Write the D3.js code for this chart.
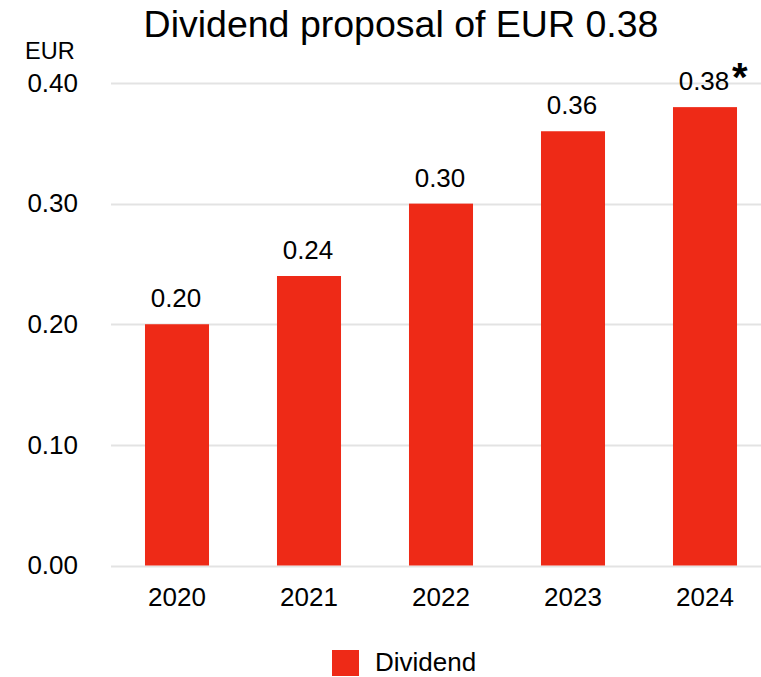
<!DOCTYPE html>
<html>
<head>
<meta charset="utf-8">
<script src="https://cdn.jsdelivr.net/npm/d3@7"></script>
<style>
  html, body { margin: 0; padding: 0; background: #fff; }
  text { font-family: "Liberation Sans", Arial, sans-serif; fill: #000; }
</style>
</head>
<body>
<svg id="chart" width="761" height="677"></svg>
<script>
// Dividend per share, EUR
const years = ["2020", "2021", "2022", "2023", "2024"];
const dividends = [0.20, 0.24, 0.30, 0.36, 0.38];
const valueLabels = ["0.20", "0.24", "0.30", "0.36", "0.38"];
const yTicks = [0, 0.1, 0.2, 0.3, 0.4];
const footnoteMarks = ["", "", "", "", "*"];
const seriesName = "Dividend";
const titleText = "Dividend proposal of EUR 0.38";
const unitText = "EUR";

const red = "#ee2a17";
const grid = "#e3e3e3";
const labelSize = "26px";

const svg = d3.select("#chart");

const x = d3.scaleBand()
  .domain(years)
  .range([111, 771])
  .paddingInner(0.515)
  .paddingOuter(0.2575);

const y = d3.scaleLinear()
  .domain([0, 0.4])
  .range([565.5, 83]);

// Title
svg.append("text")
  .attr("x", 401)
  .attr("y", 37)
  .attr("text-anchor", "middle")
  .style("font-size", "37.5px")
  .text(titleText);

// Unit label
svg.append("text")
  .attr("x", 25)
  .attr("y", 59)
  .style("font-size", "23.5px")
  .text(unitText);

// Gridlines
svg.append("g")
  .selectAll("line")
  .data(yTicks)
  .join("line")
  .attr("x1", 111)
  .attr("x2", 761)
  .attr("y1", d => Math.round(y(d)) + 0.5)
  .attr("y2", d => Math.round(y(d)) + 0.5)
  .attr("stroke", grid)
  .attr("stroke-width", 2);

// Y axis labels
const yAxis = d3.axisLeft(y)
  .tickValues(yTicks)
  .tickFormat(d3.format(".2f"))
  .tickSize(0)
  .tickPadding(0);

svg.append("g")
  .attr("transform", "translate(78,0)")
  .call(yAxis)
  .call(g => g.select(".domain").remove())
  .call(g => g.selectAll("text")
    .style("font-size", labelSize)
    .style("font-family", "'Liberation Sans', Arial, sans-serif")
    .attr("fill", "#000"));

// Bars
svg.append("g")
  .selectAll("rect")
  .data(years)
  .join("rect")
  .attr("x", d => x(d))
  .attr("width", x.bandwidth())
  .attr("y", (d, i) => y(dividends[i]))
  .attr("height", (d, i) => y(0) - y(dividends[i]))
  .attr("fill", red);

// Value labels
svg.append("g")
  .selectAll("text")
  .data(years)
  .join("text")
  .attr("x", d => x(d) + x.bandwidth() / 2 - 1)
  .attr("y", (d, i) => y(dividends[i]) - 17)
  .attr("text-anchor", "middle")
  .style("font-size", labelSize)
  .text((d, i) => valueLabels[i]);

// Footnote marker on the proposed dividend
svg.append("g")
  .selectAll("text")
  .data(years.filter((d, i) => footnoteMarks[i]))
  .join("text")
  .attr("x", d => x(d) + x.bandwidth() / 2 + 27)
  .attr("y", d => y(dividends[years.indexOf(d)]) - 16)
  .style("font-size", "40px")
  .style("font-weight", "bold")
  .text(d => footnoteMarks[years.indexOf(d)]);

// X axis labels
const xAxis = d3.axisBottom(x).tickSize(0).tickPadding(0);
svg.append("g")
  .attr("transform", "translate(0,588)")
  .call(xAxis)
  .call(g => g.select(".domain").remove())
  .call(g => g.selectAll("text")
    .attr("dy", "0.71em")
    .style("font-size", labelSize)
    .style("font-family", "'Liberation Sans', Arial, sans-serif")
    .attr("fill", "#000"));

// Legend
const legend = svg.append("g").attr("transform", "translate(332,650)");
legend.append("rect")
  .attr("width", 27)
  .attr("height", 26)
  .attr("fill", red);
legend.append("text")
  .attr("x", 43)
  .attr("y", 21)
  .style("font-size", labelSize)
  .text(seriesName);
</script>
</body>
</html>
